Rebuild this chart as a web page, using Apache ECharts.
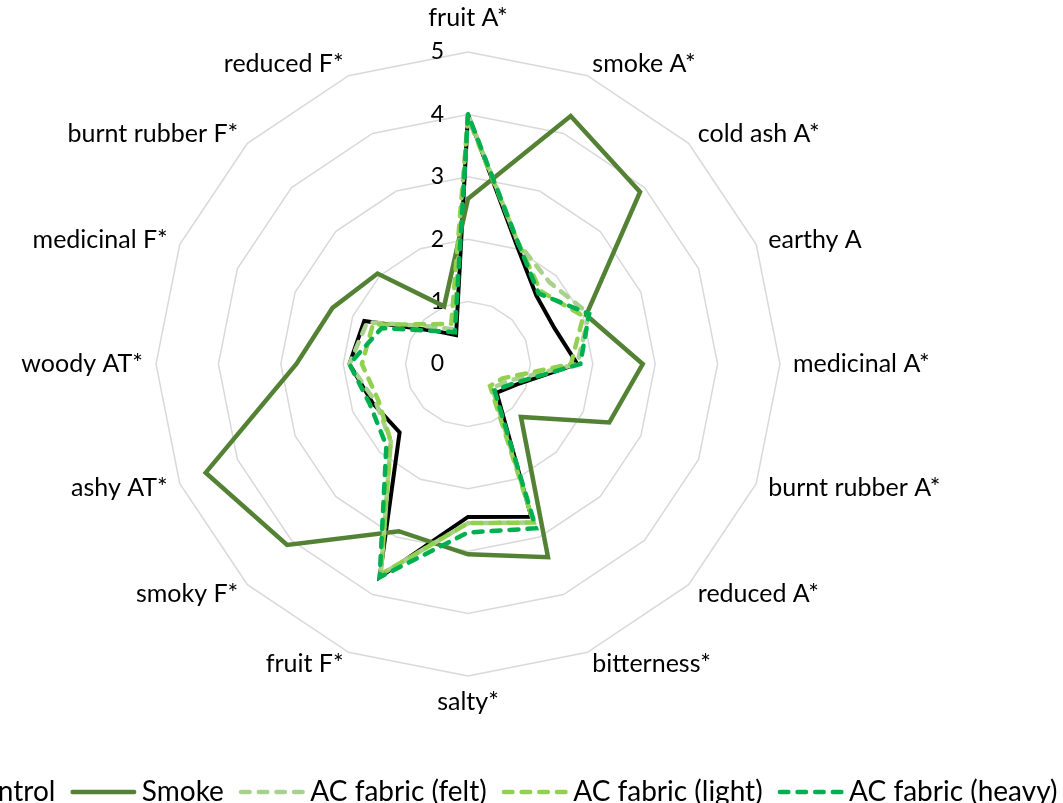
<!DOCTYPE html>
<html>
<head>
<meta charset="utf-8">
<script src="https://cdn.jsdelivr.net/npm/echarts@6/dist/echarts.min.js"></script>
<style>
  html, body { margin: 0; padding: 0; background: #fff; }
  #chart { width: 1063px; height: 803px; }
</style>
</head>
<body>
<div id="chart"></div>
<script>
// attributes, clockwise from the top
const attributes = ['fruit A*', 'smoke A*', 'cold ash A*', 'earthy A', 'medicinal A*', 'burnt rubber A*', 'reduced A*', 'bitterness*', 'salty*', 'fruit F*', 'smoky F*', 'ashy AT*', 'woody AT*', 'medicinal F*', 'burnt rubber F*', 'reduced F*'];
const control = [4.0, 2.05, 1.55, 1.5, 1.75, 0.85, 0.65, 2.65, 2.45, 3.7, 1.55, 1.65, 1.9, 1.8, 0.75, 0.5];
const smoke   = [2.65, 4.3, 3.9, 2.05, 2.8, 2.45, 1.2, 3.35, 3.05, 2.9, 4.1, 4.55, 2.75, 2.35, 2.05, 1.0];
const felt    = [4.0, 2.1, 1.85, 2.1, 1.75, 0.7, 0.55, 2.75, 2.55, 3.65, 1.75, 1.6, 1.9, 1.75, 0.85, 0.6];
const light   = [3.95, 2.1, 1.65, 2.0, 1.65, 0.6, 0.5, 2.75, 2.55, 3.65, 1.75, 1.55, 1.7, 1.65, 0.9, 0.7];
const heavy   = [4.0, 2.1, 1.6, 2.1, 1.8, 0.8, 0.6, 2.85, 2.7, 3.7, 1.85, 1.7, 1.9, 1.5, 0.75, 0.55];
const seriesNames = ['Control', 'Smoke', 'AC fabric (felt)', 'AC fabric (light)', 'AC fabric (heavy)'];

const FONT = 'Lato';

// echarts radar runs counter-clockwise, so flip everything after the first axis
function cw(arr) {
  return [arr[0]].concat(arr.slice(1).reverse());
}

// legend icons: a bar for solid lines, four round-capped dashes for dashed ones
const solidIcon = 'path://M2.25,0h61.5a2.25,2.25 0 0 1 0,4.5h-61.5a2.25,2.25 0 0 1 0,-4.5z';
function dashIcon() {
  let p = '';
  [0, 17.67, 35.33, 53].forEach(x => {
    p += 'M' + (x + 2.25) + ',0h8.5a2.25,2.25 0 0 1 0,4.5h-8.5a2.25,2.25 0 0 1 0,-4.5z';
  });
  return 'path://' + p;
}

function creatChart() {
  const chart = echarts.init(document.getElementById('chart'));
  const indicator = cw(attributes).map((name, i) => {
    const item = { name: name, min: 0, max: 5 };
    if (i === 0) {
      item.axisLabel = { show: true };
      item.nameGap = 22;
    }
    return item;
  });
  const dash = [9, 9];
  const mk = (name, data, color, type, width) => ({
    name: name,
    type: 'radar',
    symbol: 'none',
    lineStyle: { color: color, width: width, type: type, cap: 'round', join: 'miter' },
    itemStyle: { color: color },
    data: [{ value: cw(data), name: name }]
  });
  const option = {
    animation: false,
    backgroundColor: '#fff',
    legend: {
      left: -113,
      top: 773,
      itemWidth: 67,
      itemHeight: 4.5,
      itemGap: 15,
      textStyle: { fontFamily: FONT, fontSize: 28, color: '#000' },
      data: seriesNames.map((n, i) => ({ name: n, icon: i < 2 ? solidIcon : dashIcon() }))
    },
    radar: {
      center: [468, 364],
      radius: 312,
      startAngle: 90,
      splitNumber: 5,
      shape: 'polygon',
      indicator: indicator,
      axisName: { color: '#000', fontFamily: FONT, fontSize: 25 },
      nameGap: 13,
      axisLine: { show: false },
      axisTick: { show: false },
      axisLabel: { show: false, color: '#000', fontFamily: FONT, fontSize: 23, margin: 24 },
      splitLine: { lineStyle: { color: '#d9d9d9', width: 1.5 } },
      splitArea: { show: false }
    },
    series: [
      mk(seriesNames[0], control, '#000000', 'solid', 4),
      mk(seriesNames[1], smoke, '#548235', 'solid', 4.5),
      mk(seriesNames[2], felt, '#A9D18E', dash, 4.5),
      mk(seriesNames[3], light, '#92D050', dash, 4.5),
      mk(seriesNames[4], heavy, '#00B050', dash, 4.5)
    ]
  };
  chart.setOption(option);
}
window.onload = creatChart;
</script>
</body>
</html>
